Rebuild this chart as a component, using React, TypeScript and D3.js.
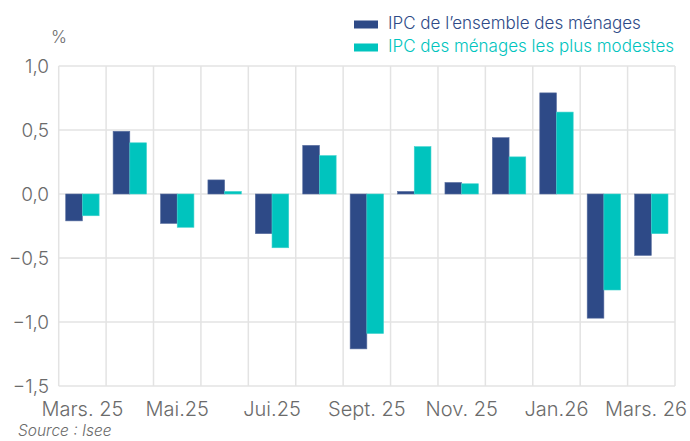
import React from "react";
import * as d3 from "d3";

const months = ["2025-03","2025-04","2025-05","2025-06","2025-07","2025-08","2025-09","2025-10","2025-11","2025-12","2026-01","2026-02","2026-03"];
const tickLabels = ["Mars. 25","","Mai.25","","Jui.25","","Sept. 25","","Nov. 25","","Jan.26","","Mars. 26"];
const ensemble = [-0.21, 0.49, -0.23, 0.11, -0.31, 0.38, -1.21, 0.02, 0.09, 0.44, 0.79, -0.97, -0.48];
const modestes = [-0.17, 0.40, -0.26, 0.02, -0.42, 0.30, -1.09, 0.37, 0.08, 0.29, 0.64, -0.75, -0.31];
const seriesNames = ["IPC de l\u2019ensemble des ménages", "IPC des ménages les plus modestes"];
const yTicks = [1.0, 0.5, 0.0, -0.5, -1.0, -1.5];

const W = 690, H = 441;
const colors = ["#2E4A87", "#00C4BE"];
const FONT = "Inter, Lato, sans-serif";

export default function App() {
  const left = 58.7, right = 675, top = 66, bottom = 386;
  const x = d3.scaleBand<string>().domain(months).range([left, right]).padding(0);
  const pad = 7;
  const x1 = d3.scaleBand<string>().domain(["a","b"]).range([pad, x.bandwidth() - pad]).padding(0);
  const y = d3.scaleLinear().domain([-1.5, 1.0]).range([bottom, top]);
  const fmt = (v: number) => d3.format(".1f")(v).replace(".", ",").replace("-", "\u2013");
  const series = [ensemble, modestes];
  const keys = ["a","b"];
  const grid = "#E3E3E3";

  return (
    <svg width={W} height={H} style={{ position: "absolute", left: 0, top: 0, background: "#fff" }} fontFamily={FONT}>
      {yTicks.map((t) => (
        <line key={"h"+t} x1={left} x2={right} y1={y(t)} y2={y(t)} stroke={grid} strokeWidth={1.5} />
      ))}
      {months.map((m) => (
        <line key={"v"+m} x1={x(m)!} x2={x(m)!} y1={top} y2={bottom} stroke={grid} strokeWidth={1.5} />
      ))}
      <line x1={right} x2={right} y1={top} y2={bottom} stroke={grid} strokeWidth={1.5} />
      {series.map((vals, si) =>
        vals.map((v, i) => {
          const bx = x(months[i])! + x1(keys[si])!;
          const y0 = y(0), yv = y(v);
          return (
            <rect key={si+"-"+i} x={bx} width={x1.bandwidth()} y={Math.min(y0, yv)} height={Math.abs(yv - y0)}
              fill={colors[si]} stroke={si === 0 ? "#5A6FA0" : "#3FD3CE"} strokeWidth={0.6} />
          );
        })
      )}
      {yTicks.map((t) => (
        <text key={"yl"+t} x={49} y={y(t)} dy="0.36em" textAnchor="end" fontSize={19} fill="#6B6B6B" fontWeight={300}>{fmt(t)}</text>
      ))}
      <text x={51} y={43} fontSize={17} fill="#6B6B6B" fontWeight={300}>%</text>
      {months.map((m, i) => tickLabels[i] ? (
        <text key={"xl"+m} x={Math.min(x(m)! + x.bandwidth()/2, W - 44)} y={416} textAnchor="middle" fontSize={20} fill="#6B6B6B" fontWeight={300}>{tickLabels[i]}</text>
      ) : null)}
      {seriesNames.map((n, i) => (
        <g key={"lg"+i} transform={`translate(354, ${20.5 + i*23})`}>
          <rect x={0} y={0} width={24} height={8} fill={colors[i]} />
          <text x={34} y={8.5} fontSize={17} fill={colors[i]} fontWeight={300}>{n}</text>
        </g>
      ))}
      <text x={18} y={436} fontSize={15.5} fontStyle="italic" fill="#6B6B6B" fontWeight={300}>Source : Isee</text>
    </svg>
  );
}
